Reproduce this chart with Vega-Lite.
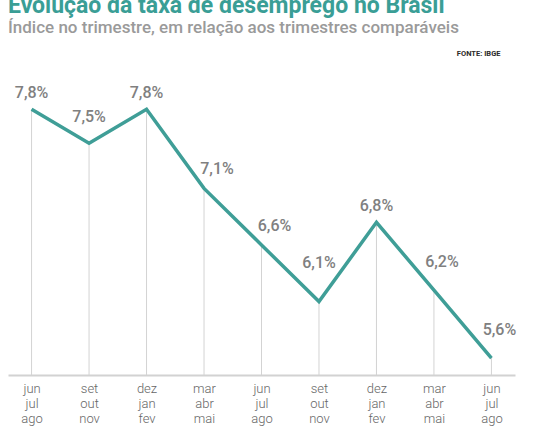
{
  "$schema": "https://vega.github.io/schema/vega-lite/v6.json",
  "width": 507,
  "height": 311,
  "padding": {"left": 8, "top": -5, "right": 0, "bottom": 0},
  "autosize": {"type": "pad"},
  "background": "white",
  "title": {
    "text": "Evolução da taxa de desemprego no Brasil",
    "subtitle": "Índice no trimestre, em relação aos trimestres comparáveis",
    "anchor": "start",
    "font": "Roboto",
    "fontSize": 23,
    "fontWeight": "bold",
    "color": "#3a9e96",
    "subtitleFont": "Roboto",
    "subtitleFontSize": 17,
    "subtitleFontWeight": 500,
    "subtitleColor": "#9a9a9a",
    "subtitlePadding": 2,
    "offset": 13
  },
  "config": {
    "view": {"stroke": null},
    "font": "Roboto",
    "locale": {"number": {"decimal": ",", "thousands": ".", "grouping": [3], "currency": ["R$", ""]}}
  },
  "data": {
    "values": [
      {"tri": "jun|jul|ago|2023", "taxa": 0.078},
      {"tri": "set|out|nov|2023", "taxa": 0.075},
      {"tri": "dez|jan|fev|2024", "taxa": 0.078},
      {"tri": "mar|abr|mai|2024", "taxa": 0.071},
      {"tri": "jun|jul|ago|2024", "taxa": 0.066},
      {"tri": "set|out|nov|2024", "taxa": 0.061},
      {"tri": "dez|jan|fev|2025", "taxa": 0.068},
      {"tri": "mar|abr|mai|2025", "taxa": 0.062},
      {"tri": "jun|jul|ago|2025", "taxa": 0.056}
    ]
  },
  "resolve": {"axis": {"x": "independent"}},
  "layer": [
    {
      "mark": {"type": "rule", "color": "#d3d3d3", "strokeWidth": 1},
      "encoding": {
        "x": {
          "field": "tri", "type": "ordinal", "sort": null,
          "scale": {"type": "point", "padding": 0.41},
          "axis": {
            "orient": "bottom",
            "title": null,
            "ticks": false,
            "grid": false,
            "domainColor": "#d2d2d2",
            "domainWidth": 2,
            "labelExpr": "split(datum.value, '|')",
            "labelFont": "Roboto",
            "labelFontSize": 13,
            "labelFontWeight": 300,
            "labelColor": "#666666",
            "labelLineHeight": 15.3,
            "labelPadding": 7,
            "labelAngle": 0
          }
        },
        "y": {"field": "taxa", "type": "quantitative", "scale": {"domain": [0.0545, 0.082], "nice": false, "zero": false}, "axis": null},
        "y2": {"datum": 0.0545}
      }
    },
    {
      "mark": {"type": "line", "color": "#3f9e97", "strokeWidth": 3.5},
      "encoding": {
        "x": {"field": "tri", "type": "ordinal", "sort": null, "axis": null},
        "y": {"field": "taxa", "type": "quantitative"}
      }
    },
    {
      "transform": [{"filter": {"field": "tri", "oneOf": ["jun|jul|ago|2023", "dez|jan|fev|2024", "dez|jan|fev|2025"]}}],
      "mark": {"type": "text", "baseline": "alphabetic", "dy": -11, "fontSize": 16, "fontWeight": 500, "color": "#808080"},
      "encoding": {
        "x": {
          "field": "tri", "type": "ordinal", "sort": null,
          "axis": {
            "orient": "top",
            "labels": false,
            "ticks": false,
            "domain": false,
            "grid": false,
            "title": "FONTE: IBGE",
            "titleFont": "Roboto",
            "titleFontSize": 7.5,
            "titleFontWeight": "bold",
            "titleColor": "#2a2a2a",
            "titleAnchor": null,
            "titleAlign": "right",
            "titleBaseline": "alphabetic",
            "titleX": 492,
            "titleY": -9
          }
        },
        "y": {"field": "taxa", "type": "quantitative"},
        "text": {"field": "taxa", "type": "quantitative", "format": ".1%"}
      }
    },
    {
      "transform": [{"filter": {"field": "tri", "equal": "set|out|nov|2023"}}],
      "mark": {"type": "text", "baseline": "alphabetic", "dy": -21, "fontSize": 16, "fontWeight": 500, "color": "#808080"},
      "encoding": {
        "x": {"field": "tri", "type": "ordinal", "sort": null, "axis": null},
        "y": {"field": "taxa", "type": "quantitative"},
        "text": {"field": "taxa", "type": "quantitative", "format": ".1%"}
      }
    },
    {
      "transform": [{"filter": {"field": "tri", "equal": "set|out|nov|2024"}}],
      "mark": {"type": "text", "baseline": "alphabetic", "dy": -33, "fontSize": 16, "fontWeight": 500, "color": "#808080"},
      "encoding": {
        "x": {"field": "tri", "type": "ordinal", "sort": null, "axis": null},
        "y": {"field": "taxa", "type": "quantitative"},
        "text": {"field": "taxa", "type": "quantitative", "format": ".1%"}
      }
    },
    {
      "transform": [{"filter": {"field": "tri", "oneOf": ["mar|abr|mai|2024", "jun|jul|ago|2024"]}}],
      "mark": {"type": "text", "baseline": "alphabetic", "dx": 13, "dy": -14, "fontSize": 16, "fontWeight": 500, "color": "#808080"},
      "encoding": {
        "x": {"field": "tri", "type": "ordinal", "sort": null, "axis": null},
        "y": {"field": "taxa", "type": "quantitative"},
        "text": {"field": "taxa", "type": "quantitative", "format": ".1%"}
      }
    },
    {
      "transform": [{"filter": {"field": "tri", "oneOf": ["mar|abr|mai|2025", "jun|jul|ago|2025"]}}],
      "mark": {"type": "text", "baseline": "alphabetic", "dx": 8, "dy": -23, "fontSize": 16, "fontWeight": 500, "color": "#808080"},
      "encoding": {
        "x": {"field": "tri", "type": "ordinal", "sort": null, "axis": null},
        "y": {"field": "taxa", "type": "quantitative"},
        "text": {"field": "taxa", "type": "quantitative", "format": ".1%"}
      }
    }
  ]
}
